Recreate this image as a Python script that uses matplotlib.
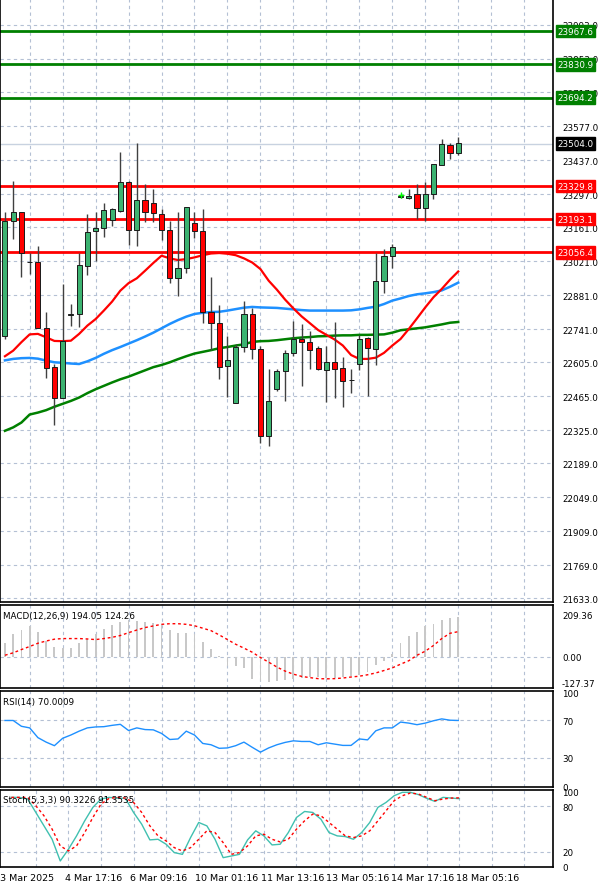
import numpy as np
import matplotlib
matplotlib.use("Agg")
import matplotlib.pyplot as plt
from matplotlib.transforms import blended_transform_factory as btf

opens  = [22714,23187,23221,23015,23015,22744,22584,22456,22799,22803,23002,23143,23159,23191,23228,23347,23148,23271,23262,23214,23148,22950,22991,23177,23143,22810,22765,22588,22436,22666,22803,22659,22299,22496,22569,22641,22702,22686,22662,22573,22607,22582,22530,22597,22703,22658,22940,23043,23285,23279,23296,23241,23296,23417,23499,23465]
closes = [23187,23221,23056,23015,22744,22580,22456,22691,22799,23006,23139,23159,23230,23234,23347,23148,23271,23221,23217,23148,22950,22991,23245,23143,22810,22765,22584,22615,22666,22803,22659,22299,22446,22569,22641,22702,22688,22654,22576,22607,22578,22527,22530,22700,22662,22940,23043,23077,23285,23290,23241,23296,23419,23504,23465,23509]
highs  = [23221,23351,23221,23056,23081,22810,22598,22926,22844,23056,23214,23221,23262,23241,23470,23351,23508,23340,23317,23234,23187,23221,23245,23221,23234,22954,22841,22713,22680,22858,22827,22673,22576,22576,22654,22776,22761,22733,22673,22673,22769,22624,22576,22718,22710,23056,23070,23091,23292,23319,23337,23347,23422,23522,23506,23533]
lows   = [22700,23111,22954,22967,22744,22541,22344,22456,22755,22748,22963,23022,23122,23166,23221,23087,23084,23183,23180,23108,22930,22878,22970,23114,22765,22656,22536,22462,22436,22648,22618,22271,22258,22487,22446,22628,22507,22578,22573,22441,22459,22422,22478,22574,22467,22593,22890,22991,23280,23276,23196,23187,23276,23417,23440,23458]

ma_fast = [22629,22652,22687,22719,22721,22707,22692,22691,22693,22721,22755,22782,22817,22854,22899,22930,22950,22981,23013,23043,23032,23025,23029,23036,23045,23052,23054,23051,23045,23032,23015,22988,22940,22903,22862,22826,22793,22765,22737,22717,22698,22673,22634,22618,22618,22623,22643,22673,22700,22741,22785,22830,22872,22906,22944,22978]
ma_mid = [22612,22618,22621,22622,22619,22611,22604,22602,22599,22597,22608,22622,22639,22654,22667,22681,22695,22710,22726,22744,22762,22778,22792,22803,22808,22811,22812,22817,22823,22829,22832,22830,22829,22828,22825,22822,22819,22817,22817,22817,22817,22817,22818,22822,22828,22833,22844,22858,22867,22877,22884,22888,22893,22900,22915,22932]
ma_slow = [22322,22336,22356,22389,22397,22407,22421,22433,22445,22459,22477,22493,22507,22521,22534,22545,22558,22571,22584,22593,22604,22617,22629,22640,22647,22654,22662,22667,22673,22678,22688,22691,22692,22695,22699,22703,22706,22708,22711,22712,22714,22715,22715,22717,22717,22718,22719,22726,22736,22740,22744,22748,22754,22760,22767,22770]

macd_hist = [67,113,132,152,121,79,51,44,44,67,90,113,136,157,172,182,178,172,167,160,132,116,118,113,74,39,2,-47,-47,-57,-111,-120,-123,-120,-116,-111,-104,-101,-101,-104,-104,-101,-96,-88,-73,-42,-19,12,67,101,121,150,160,180,190,194]
macd_signal = [8,20,36,51,67,78,87,90,90,90,88,85,90,96,105,119,132,144,152,160,163,163,160,153,141,129,108,85,62,43,23,-3,-26,-50,-70,-85,-96,-102,-107,-108,-107,-104,-99,-95,-88,-79,-67,-54,-36,-19,8,28,56,90,116,124]
rsi = [70,70,63.8,62.1,51.7,46.9,43.1,51.0,54.5,58.6,62.1,63.1,63.4,64.8,65.9,59.3,62.1,60.3,60.0,56.2,49.7,50.3,58.6,54.5,45.5,44.1,40.3,40.7,43.1,46.9,41.4,36.2,40.7,44.1,46.6,48.3,47.6,47.6,44.1,46.2,44.8,43.4,43.4,50.3,49.3,59.0,62.1,62.1,68.3,67.2,65.5,67.2,69.7,71.7,70.3,70.0]
stoch_k = [92,92,89.8,72,54.2,36.4,7.6,23.1,40.9,60.9,78.7,89.8,92,91.1,90.7,72,56.4,35.6,36.4,29.8,18.7,16.4,38.7,58.7,54.2,36.4,12,14.2,16.4,35.6,47.6,40.9,28.9,29.8,45.3,65.3,73.3,72,63.1,45.3,40.9,40,36.4,45.3,58.7,78.7,85.3,94.2,98.7,98.7,95.6,90.7,86.7,92,91.1,90.3]
stoch_d = [92,92,92,80.9,67.6,49.8,27.6,20.9,27.6,45.3,65.3,83.1,90.7,92,91.1,85.3,72,54.2,40.9,34.2,25.3,20.9,25.3,36.4,47.6,45.3,32,16.4,18.7,27.6,40.9,43.1,36.4,32.9,36.4,49.8,60.9,69.8,67.6,58.7,49.8,40.9,38.7,40.9,47.6,60.9,74.2,87.6,94.2,97.8,96.4,92,87.6,89.8,91.1,91.35]

res_levels = [23967.6, 23830.9, 23694.2]
sup_levels = [23329.8, 23193.1, 23056.4]
last_price = 23504.0
price_ticks = [23993.0,23853.0,23717.0,23577.0,23437.0,23297.0,23161.0,23021.0,22881.0,22741.0,22605.0,22465.0,22325.0,22189.0,22049.0,21909.0,21769.0,21633.0]
date_idx = [-1,7,15,23,31,39,47,55]
date_labels = ["3 Mar 2025","4 Mar 17:16","6 Mar 09:16","10 Mar 01:16","11 Mar 13:16","13 Mar 05:16","14 Mar 17:16","18 Mar 05:16"]

FS = 6.3
W, H = 600, 887
fig = plt.figure(figsize=(6, 8.87), dpi=100)
def mk(top, bot):
    return fig.add_axes([0, 1 - bot / H, 553 / W, (bot - top) / H])
ax = mk(0, 603); am = mk(606, 689); ar = mk(691.5, 788); ast = mk(791, 868)
n = len(opens)
idx = np.arange(n)
xl = (-0.6, 66.5)
gridc = "#b4c0d4"
for a in (ax, am, ar, ast):
    a.set_xlim(*xl)
    for s in a.spines.values():
        s.set_color("black"); s.set_linewidth(1.2)
    a.tick_params(axis="x", length=0, labelbottom=False)
    a.tick_params(axis="y", left=False, right=False, labelleft=False, labelright=True, labelsize=FS, pad=3)
    for v in np.arange(3, 67, 4):
        a.axvline(v, color=gridc, ls=(0, (3, 3)), lw=0.8, zorder=0)

# main panel
ax.set_ylim(21617, 24100)
ax.set_yticks(price_ticks)
ax.set_yticklabels([f"{v:.1f}" for v in price_ticks])
for v in price_ticks:
    ax.axhline(v, color=gridc, ls=(0, (3, 3)), lw=0.8, zorder=0)
ax.axhline(last_price, color="#c8d2e0", lw=1.0, zorder=1)
for lv in res_levels:
    ax.axhline(lv, color="#008000", lw=2, zorder=2)
for lv in sup_levels:
    ax.axhline(lv, color="#ff0000", lw=2, zorder=2)
ax.plot(idx, ma_slow, color="#008000", lw=1.8, zorder=3)
ax.plot(idx, ma_mid, color="#1e90ff", lw=1.8, zorder=3)
ax.plot(idx, ma_fast, color="#ff0000", lw=1.6, zorder=3)
o = np.array(opens); c = np.array(closes)
up = c >= o
ax.vlines(idx, lows, highs, color="#404040", lw=1, zorder=4)
cols = np.where(up, "#3cb371", "#ff0000")
ax.bar(idx, np.where(np.abs(c - o) < 3, 3, c - o), bottom=o, width=0.62, color=cols,
       edgecolor="#1a1a1a", linewidth=0.7, zorder=5)
ax.plot([48], [23292], marker="+", color="#00ff00", ms=5, zorder=6)
tr = btf(ax.transAxes, ax.transData)
def box(v, fc):
    ax.text(1.008, v, f"{v:.1f}", transform=tr, fontsize=FS, color="white", va="center", ha="left",
            bbox=dict(boxstyle="square,pad=0.2", fc=fc, ec=fc), zorder=10, clip_on=False)
for lv in res_levels:
    box(lv, "#008000")
for lv in sup_levels:
    box(lv, "#ff0000")
box(last_price, "black")

# MACD
am.set_ylim(-153, 255)
am.set_yticks([209.36, 0, -127.37]); am.set_yticklabels(["209.36", "0.00", "-127.37"])
am.axhline(0, color=gridc, ls=(0, (3, 3)), lw=0.8, zorder=0)
am.bar(idx, macd_hist, width=0.22, color="#c8c8c8", zorder=2)
am.plot(idx, macd_signal, color="#ff0000", ls=(0, (2, 2)), lw=1, zorder=3)
am.text(0.005, 0.93, "MACD(12,26,9) 194.05 124.26", transform=am.transAxes, fontsize=FS, va="top")

# RSI
ar.set_ylim(-1, 102)
ar.set_yticks([100, 70, 30, 0])
for v in (70, 30):
    ar.axhline(v, color=gridc, ls=(0, (3, 3)), lw=0.8, zorder=0)
ar.plot(idx, rsi, color="#1e90ff", lw=1, zorder=3)
ar.text(0.005, 0.93, "RSI(14) 70.0009", transform=ar.transAxes, fontsize=FS, va="top")

# Stoch
ast.set_ylim(-0.4, 101.8)
ast.set_yticks([100, 80, 20, 0])
for v in (80, 20):
    ast.axhline(v, color=gridc, ls=(0, (3, 3)), lw=0.8, zorder=0)
ast.plot(idx, stoch_k, color="#40c0b0", lw=1, zorder=3)
ast.plot(idx, stoch_d, color="#ff0000", ls=(0, (2, 2)), lw=1, zorder=3)
ast.text(0.005, 0.93, "Stoch(5,3,3) 90.3226 91.3535", transform=ast.transAxes, fontsize=FS, va="top")

ast.set_xticks(np.array(date_idx) - 0.4, date_labels)
ast.tick_params(axis="x", labelbottom=True, labelsize=FS + 0.5, pad=4, length=0)
for lab in ast.get_xticklabels():
    lab.set_horizontalalignment("left")

fig.savefig("out.png", dpi=100, facecolor="white")
